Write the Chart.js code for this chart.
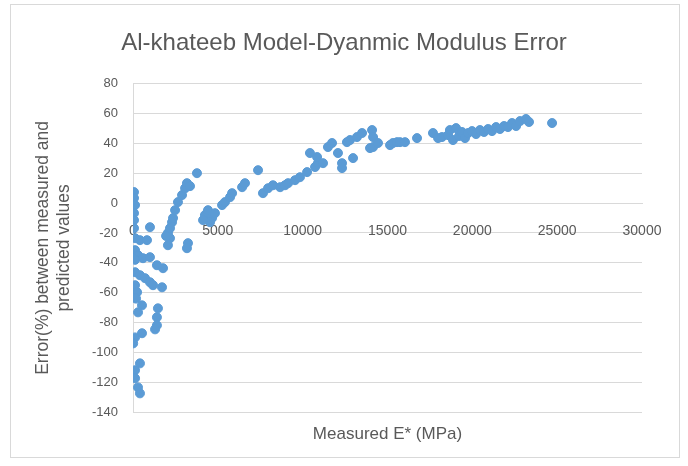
<!DOCTYPE html>
<html>
<head>
<meta charset="utf-8">
<script src="https://cdn.jsdelivr.net/npm/chart.js@4"></script>
<style>
  html, body { margin: 0; padding: 0; background: #fff; }
  #chart { display: block; }
</style>
</head>
<body>
<canvas id="chart" width="688" height="466"></canvas>
<script>
// Measured dynamic modulus E* (MPa)
const measuredE = [
    60, 60, 120, 60, 60, 60, 120, 410, 825, 120,
    295, 590, 1000, 1410, 1770, 120, 410, 710, 1000, 1180,
    1710, 120, 240, 530, 295, 1470, 1410, 1410, 1300, 530,
    120, 10, 410, 120, 120, 295, 410, 1000, 120, 180,
    2180, 2060, 3240, 3180, 2060, 2300, 2360, 2480, 2650, 2890,
    3070, 3180, 3360, 3770, 2180, 1950, 4240, 4420, 4660, 4830,
    4540, 4130, 5250, 5420, 5720, 5840, 6430, 6600, 7370, 7660,
    7960, 8250, 8670, 8960, 9140, 9550, 9840, 10260, 10730, 10900,
    10430, 10850, 11200, 11490, 11730, 12080, 12320, 12320, 12610, 12790,
    12970, 13200, 13500, 14090, 14150, 13970, 14150, 14440, 15150, 15320,
    15560, 15740, 16030, 16740, 17680, 17980, 18210, 18570, 18680, 18860,
    19040, 19220, 19390, 19570, 19750, 19980, 20220, 20450, 20690, 20930,
    21160, 21400, 21630, 21870, 22100, 22340, 22580, 22810, 23160, 23340,
    24700
];

// Error (%) between measured and predicted values, same order
const errorPct = [
    7.4, 3.4, -1.3, -6.7, -11.4, -16.8, -23.5, -24.8, -24.8, -31.5,
    -34.9, -36.9, -36.2, -41.6, -43.6, -46.3, -48.3, -50.3, -53, -55,
    -56.4, -55, -59.7, -68.5, -73.2, -70.5, -76.5, -81.9, -84.6, -87.2,
    -90, -94, -107.4, -112, -117.4, -123.5, -127.5, -16.1, -38, -64,
    -23.5, -28.2, -26.8, -30.2, -20, -12.8, -10, -4.7, 0.7, 5.4,
    10, 13.4, 11.4, 20.1, -16.8, -22, -8, -4.7, -10, -6.7,
    -12.8, -11.4, -1.3, 0.7, 4, 6.7, 10.7, 13.4, 22.1, 6.7,
    10, 12, 10.7, 12, 13.4, 15.4, 17.4, 20.8, 24.2, 26.8,
    33.6, 30.9, 26.8, 37.6, 40.3, 33.6, 26.8, 23.5, 40.9, 42.3,
    30.2, 44.3, 47, 49, 44.3, 36.9, 37.6, 40.3, 38.9, 40.3,
    40.9, 40.9, 40.9, 43.6, 47, 43.6, 44.3, 45.6, 49, 42.3,
    50.3, 45, 47.7, 43.6, 47, 48.3, 46.3, 49, 47.7, 49.7,
    48.3, 51, 49.7, 51.7, 51, 53.7, 51.7, 55, 56.4, 54.4,
    53.7
];

// Axis ticks
const xTickValues = [0, 5000, 10000, 15000, 20000, 25000, 30000];
const yTickValues = [-140, -120, -100, -80, -60, -40, -20, 0, 20, 40, 60, 80];

const textColor = '#595959';
const gridColor = '#d9d9d9';
const fontFamily = "'Liberation Sans', Arial, sans-serif";

// white background + light outer frame like the Excel chart box
const framePlugin = {
    id: 'frame',
    beforeDraw(chart) {
        const ctx = chart.ctx;
        ctx.save();
        ctx.fillStyle = '#fff';
        ctx.fillRect(0, 0, chart.width, chart.height);
        ctx.strokeStyle = gridColor;
        ctx.lineWidth = 1;
        ctx.strokeRect(10.5, 4.5, 669, 453);
        ctx.restore();
    }
};

const points = measuredE.map((x, i) => ({ x: x, y: errorPct[i] }));

new Chart(document.getElementById('chart').getContext('2d'), {
    type: 'scatter',
    data: {
        datasets: [{
            label: 'Error',
            data: points,
            backgroundColor: '#5b9bd5',
            borderColor: '#5b9bd5',
            borderWidth: 1,
            pointRadius: 4.5,
            pointHoverRadius: 4.5
        }]
    },
    options: {
        responsive: false,
        animation: false,
        devicePixelRatio: 1,
        layout: {
            padding: { top: 10, left: 12, right: 12, bottom: 10 }
        },
        plugins: {
            legend: { display: false },
            tooltip: { enabled: false },
            title: {
                display: true,
                text: 'Al-khateeb Model-Dyanmic Modulus Error',
                color: textColor,
                font: { family: fontFamily, size: 24, weight: 'normal', lineHeight: 1.2 },
                padding: { top: 19, bottom: 26 }
            }
        },
        scales: {
            x: {
                type: 'linear',
                position: { y: 0 },
                min: xTickValues[0],
                max: xTickValues[xTickValues.length - 1],
                afterBuildTicks: (scale) => {
                    scale.ticks = xTickValues.map(v => ({ value: v }));
                },
                afterFit: (scale) => { scale.height = 0; },
                grid: { display: false, drawTicks: false },
                border: { display: true, color: gridColor, width: 1 },
                ticks: {
                    color: textColor,
                    padding: 20,
                    maxRotation: 0,
                    font: { family: fontFamily, size: 14 },
                    callback: (v) => String(v)
                }
            },
            xTitle: {
                type: 'linear',
                position: 'bottom',
                min: xTickValues[0],
                max: xTickValues[xTickValues.length - 1],
                afterFit: (scale) => { scale.height = 44; },
                grid: { display: false, drawTicks: false },
                border: { display: false },
                ticks: { display: false },
                title: {
                    display: true,
                    text: 'Measured E* (MPa)',
                    color: textColor,
                    font: { family: fontFamily, size: 17, lineHeight: 1.2 },
                    padding: { top: 0, bottom: 11 }
                }
            },
            y: {
                type: 'linear',
                position: 'left',
                min: yTickValues[0],
                max: yTickValues[yTickValues.length - 1],
                afterBuildTicks: (scale) => {
                    scale.ticks = yTickValues.map(v => ({ value: v }));
                },
                afterFit: (scale) => { scale.width = 121; },
                grid: { color: gridColor, lineWidth: 1, drawTicks: false },
                border: { display: true, color: gridColor, width: 1 },
                ticks: {
                    color: textColor,
                    padding: 15,
                    font: { family: fontFamily, size: 13 }
                },
                title: {
                    display: true,
                    text: ['Error(%) between measured and', 'predicted values'],
                    color: textColor,
                    font: { family: fontFamily, size: 17.5, lineHeight: 1.2 },
                    padding: { top: 21, bottom: 0 }
                }
            },
            // empty right-hand spacer so the title stays centred on the whole box
            ySpace: {
                type: 'linear',
                position: 'right',
                afterFit: (scale) => { scale.width = 34; },
                grid: { display: false, drawTicks: false },
                border: { display: false },
                ticks: { display: false }
            }
        }
    },
    plugins: [framePlugin]
});
</script>
</body>
</html>
